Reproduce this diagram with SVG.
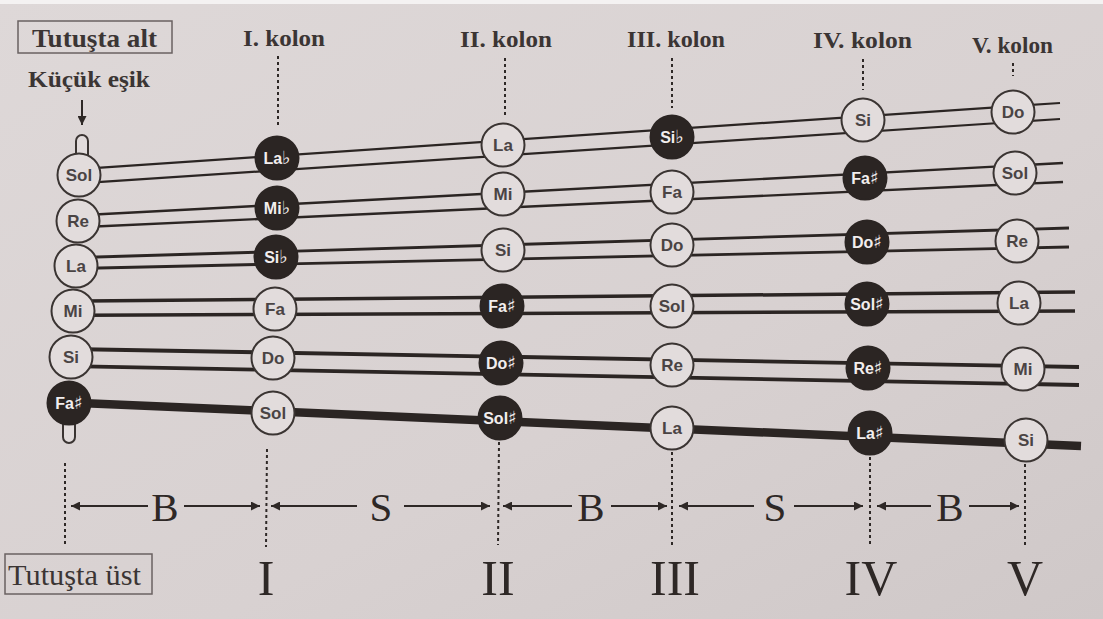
<svg xmlns="http://www.w3.org/2000/svg" width="1103" height="619" viewBox="0 0 1103 619">
<defs>
<linearGradient id="paper" x1="0" y1="0" x2="1" y2="1">
<stop offset="0" stop-color="#ded8d8"/>
<stop offset="0.6" stop-color="#d8d1d1"/>
<stop offset="1" stop-color="#cfc8c8"/>
</linearGradient>
<marker id="ah" viewBox="0 0 10 10" refX="10" refY="5" markerWidth="11" markerHeight="9" markerUnits="userSpaceOnUse" orient="auto-start-reverse">
<path d="M0,0 L10,5 L0,10 z" fill="#2e2826"/>
</marker>
<style>
.ink{stroke:#2b2523;fill:none}
.dash{stroke:#2e2826;stroke-width:2;stroke-dasharray:3 3;fill:none}
.arr{stroke:#2e2826;stroke-width:2;fill:none}
.w circle{fill:#e2dcdc;stroke:#3a3432;stroke-width:2}
.b circle{fill:#2b2523;stroke:#2b2523;stroke-width:2}
.w text{font-family:"Liberation Sans",Arial,sans-serif;font-weight:bold;font-size:17px;fill:#4a4444;text-anchor:middle}
.b text{font-family:"Liberation Sans",Arial,sans-serif;font-weight:bold;font-size:16px;fill:#f2eeee;text-anchor:middle}
.acc{font-family:"DejaVu Sans",sans-serif;font-size:18px;font-weight:bold}
.lab{font-family:"Liberation Serif","Times New Roman",serif;font-weight:bold;fill:#3b3534}
.big{font-family:"Liberation Serif","Times New Roman",serif;fill:#2e2826;text-anchor:middle}
.box{fill:none;stroke:#6a6262;stroke-width:1.5}
.cap{fill:#e2dcdc;stroke:#3a3432;stroke-width:2}
</style>
</defs>
<rect width="1103" height="619" fill="url(#paper)"/>
<rect width="1103" height="4" fill="#f4f2f2"/>

<g id="labels">
<rect class="box" x="18" y="21" width="154" height="32"/>
<text class="lab" x="32" y="47" font-size="25" textLength="125" lengthAdjust="spacingAndGlyphs">Tutuşta alt</text>
<text class="lab" x="243" y="46" font-size="24" textLength="82" lengthAdjust="spacingAndGlyphs">I. kolon</text>
<text class="lab" x="460" y="47" font-size="24" textLength="92" lengthAdjust="spacingAndGlyphs">II. kolon</text>
<text class="lab" x="627" y="47" font-size="24" textLength="98" lengthAdjust="spacingAndGlyphs">III. kolon</text>
<text class="lab" x="813" y="48" font-size="24" textLength="99" lengthAdjust="spacingAndGlyphs">IV. kolon</text>
<text class="lab" x="972" y="53" font-size="24" textLength="81" lengthAdjust="spacingAndGlyphs">V. kolon</text>
<text class="lab" x="28" y="87" font-size="23" textLength="122" lengthAdjust="spacingAndGlyphs">Küçük eşik</text>
<rect class="box" x="5" y="554" width="147" height="40"/>
<text x="8" y="585" font-family="Liberation Serif,'Times New Roman',serif" font-size="30" fill="#3b3534" textLength="133" lengthAdjust="spacingAndGlyphs">Tutuşta üst</text>
<text class="big" x="266" y="595" font-size="50">I</text>
<text class="big" x="498" y="595" font-size="50">II</text>
<text class="big" x="675" y="595" font-size="50">III</text>
<text class="big" x="871" y="595" font-size="50">IV</text>
<text class="big" x="1025" y="595" font-size="50">V</text>
<text class="big" x="165" y="521" font-size="41">B</text>
<text class="big" x="381" y="521" font-size="41">S</text>
<text class="big" x="591" y="521" font-size="41">B</text>
<text class="big" x="775" y="521" font-size="41">S</text>
<text class="big" x="950" y="521" font-size="41">B</text>
</g>

<g id="connectors">
<!-- string 1 -->
<line class="ink" stroke-width="2.2" x1="90" y1="168.4" x2="1060" y2="103"/>
<line class="ink" stroke-width="2.2" x1="90" y1="182.6" x2="1060" y2="119"/>
<!-- string 2 -->
<line class="ink" stroke-width="2.4" x1="90" y1="214.8" x2="1063" y2="163"/>
<line class="ink" stroke-width="2.4" x1="90" y1="226.8" x2="1063" y2="182"/>
<!-- string 3 -->
<line class="ink" stroke-width="2.9" x1="88" y1="257.3" x2="1069" y2="228"/>
<line class="ink" stroke-width="2.9" x1="88" y1="268.2" x2="1069" y2="247"/>
<!-- string 4 -->
<line class="ink" stroke-width="3.5" x1="85" y1="301.1" x2="1075" y2="292"/>
<line class="ink" stroke-width="3.5" x1="85" y1="315.2" x2="1075" y2="311"/>
<!-- string 5 -->
<line class="ink" stroke-width="3.9" x1="83" y1="349.2" x2="1079" y2="367"/>
<line class="ink" stroke-width="3.9" x1="83" y1="366.4" x2="1079" y2="385"/>
<!-- string 6 -->
<line class="ink" stroke-width="8.5" x1="80" y1="403" x2="1081" y2="446"/>
<!-- top dashed column lines -->
<line class="dash" x1="278" y1="56" x2="278" y2="125"/>
<line class="dash" x1="505" y1="58" x2="505" y2="115"/>
<line class="dash" x1="672" y1="58" x2="672" y2="108"/>
<line class="dash" x1="863" y1="59" x2="863" y2="90"/>
<line class="dash" x1="1013" y1="63" x2="1013" y2="76"/>
<!-- bottom dashed column lines -->
<line class="dash" x1="65" y1="463" x2="65" y2="544"/>
<line class="dash" x1="267" y1="449" x2="266" y2="547"/>
<line class="dash" x1="499" y1="442" x2="498" y2="545"/>
<line class="dash" x1="672" y1="452" x2="672" y2="547"/>
<line class="dash" x1="870" y1="457" x2="870" y2="547"/>
<line class="dash" x1="1025" y1="464" x2="1025" y2="547"/>
<!-- Küçük eşik arrow -->
<line class="arr" x1="82" y1="100" x2="82" y2="125" marker-end="url(#ah)"/>
<!-- distance arrows -->
<line class="arr" x1="148" y1="506" x2="71" y2="506" marker-end="url(#ah)"/>
<line class="arr" x1="184" y1="506" x2="260" y2="506" marker-end="url(#ah)"/>
<line class="arr" x1="357" y1="506" x2="271" y2="506" marker-end="url(#ah)"/>
<line class="arr" x1="404" y1="506" x2="490" y2="506" marker-end="url(#ah)"/>
<line class="arr" x1="572" y1="506" x2="503" y2="506" marker-end="url(#ah)"/>
<line class="arr" x1="611" y1="506" x2="667" y2="506" marker-end="url(#ah)"/>
<line class="arr" x1="754" y1="506" x2="679" y2="506" marker-end="url(#ah)"/>
<line class="arr" x1="794" y1="506" x2="863" y2="506" marker-end="url(#ah)"/>
<line class="arr" x1="931" y1="506" x2="877" y2="506" marker-end="url(#ah)"/>
<line class="arr" x1="969" y1="506" x2="1019" y2="506" marker-end="url(#ah)"/>
</g>

<g id="nut-caps">
<path class="cap" d="M76,157 V141 A6,6 0 0 1 88,141 V157"/>
<path class="cap" d="M63,418 V437 A6,6 0 0 0 75,437 V418"/>
</g>

<!-- nut column -->
<g id="n0-sol" class="w"><circle cx="79" cy="175" r="21.5"/><text x="79" y="181">Sol</text></g>
<g id="n0-re" class="w"><circle cx="78" cy="221" r="21.5"/><text x="78" y="227">Re</text></g>
<g id="n0-la" class="w"><circle cx="76" cy="266" r="21.5"/><text x="76" y="272">La</text></g>
<g id="n0-mi" class="w"><circle cx="73" cy="311" r="21.5"/><text x="73" y="317">Mi</text></g>
<g id="n0-si" class="w"><circle cx="71" cy="357" r="21.5"/><text x="71" y="363">Si</text></g>
<g id="n0-fas" class="b"><circle cx="69" cy="403" r="21.5"/><text x="69" y="409">Fa<tspan class="acc">♯</tspan></text></g>

<!-- column I -->
<g id="n1-lab" class="b"><circle cx="277" cy="158" r="21.5"/><text x="277" y="164">La<tspan class="acc">♭</tspan></text></g>
<g id="n1-mib" class="b"><circle cx="277" cy="208" r="21.5"/><text x="277" y="214">Mi<tspan class="acc">♭</tspan></text></g>
<g id="n1-sib" class="b"><circle cx="276" cy="257" r="21.5"/><text x="276" y="263">Si<tspan class="acc">♭</tspan></text></g>
<g id="n1-fa" class="w"><circle cx="275" cy="309" r="21.5"/><text x="275" y="315">Fa</text></g>
<g id="n1-do" class="w"><circle cx="273" cy="358" r="21.5"/><text x="273" y="364">Do</text></g>
<g id="n1-sol" class="w"><circle cx="273" cy="413" r="21.5"/><text x="273" y="419">Sol</text></g>

<!-- column II -->
<g id="n2-la" class="w"><circle cx="503" cy="145" r="21.5"/><text x="503" y="151">La</text></g>
<g id="n2-mi" class="w"><circle cx="503" cy="194" r="21.5"/><text x="503" y="200">Mi</text></g>
<g id="n2-si" class="w"><circle cx="503" cy="250" r="21.5"/><text x="503" y="256">Si</text></g>
<g id="n2-fas" class="b"><circle cx="502" cy="306" r="21.5"/><text x="502" y="312">Fa<tspan class="acc">♯</tspan></text></g>
<g id="n2-dos" class="b"><circle cx="501" cy="363" r="21.5"/><text x="501" y="369">Do<tspan class="acc">♯</tspan></text></g>
<g id="n2-sols" class="b"><circle cx="500" cy="418" r="21.5"/><text x="500" y="424">Sol<tspan class="acc">♯</tspan></text></g>

<!-- column III -->
<g id="n3-sib" class="b"><circle cx="672" cy="137" r="21.5"/><text x="672" y="143">Si<tspan class="acc">♭</tspan></text></g>
<g id="n3-fa" class="w"><circle cx="672" cy="192" r="21.5"/><text x="672" y="198">Fa</text></g>
<g id="n3-do" class="w"><circle cx="672" cy="245" r="21.5"/><text x="672" y="251">Do</text></g>
<g id="n3-sol" class="w"><circle cx="672" cy="306" r="21.5"/><text x="672" y="312">Sol</text></g>
<g id="n3-re" class="w"><circle cx="672" cy="365" r="21.5"/><text x="672" y="371">Re</text></g>
<g id="n3-la" class="w"><circle cx="672" cy="428" r="21.5"/><text x="672" y="434">La</text></g>

<!-- column IV -->
<g id="n4-si" class="w"><circle cx="863" cy="120" r="21.5"/><text x="863" y="126">Si</text></g>
<g id="n4-fas" class="b"><circle cx="865" cy="178" r="21.5"/><text x="865" y="184">Fa<tspan class="acc">♯</tspan></text></g>
<g id="n4-dos" class="b"><circle cx="867" cy="242" r="21.5"/><text x="867" y="248">Do<tspan class="acc">♯</tspan></text></g>
<g id="n4-sols" class="b"><circle cx="867" cy="304" r="21.5"/><text x="867" y="310">Sol<tspan class="acc">♯</tspan></text></g>
<g id="n4-res" class="b"><circle cx="868" cy="368" r="21.5"/><text x="868" y="374">Re<tspan class="acc">♯</tspan></text></g>
<g id="n4-las" class="b"><circle cx="870" cy="433" r="21.5"/><text x="870" y="439">La<tspan class="acc">♯</tspan></text></g>

<!-- column V -->
<g id="n5-do" class="w"><circle cx="1013" cy="112" r="21.5"/><text x="1013" y="118">Do</text></g>
<g id="n5-sol" class="w"><circle cx="1015" cy="173" r="21.5"/><text x="1015" y="179">Sol</text></g>
<g id="n5-re" class="w"><circle cx="1017" cy="241" r="21.5"/><text x="1017" y="247">Re</text></g>
<g id="n5-la" class="w"><circle cx="1019" cy="303" r="21.5"/><text x="1019" y="309">La</text></g>
<g id="n5-mi" class="w"><circle cx="1023" cy="369" r="21.5"/><text x="1023" y="375">Mi</text></g>
<g id="n5-si" class="w"><circle cx="1026" cy="440" r="21.5"/><text x="1026" y="446">Si</text></g>
</svg>
